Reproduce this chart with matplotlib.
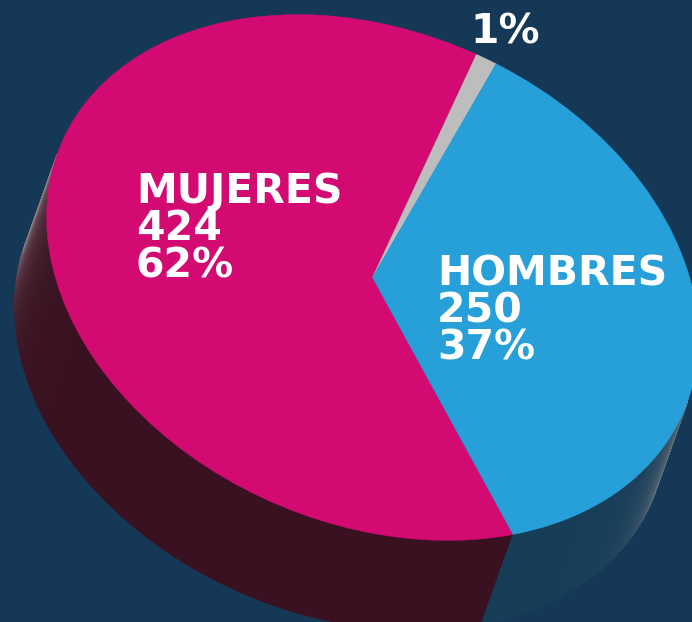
import numpy as np
import matplotlib
matplotlib.use("Agg")
import matplotlib.pyplot as plt
from matplotlib.patches import Wedge
from matplotlib.collections import PolyCollection
from matplotlib.transforms import Affine2D
import matplotlib.colors as mcolors

# ---- data ----
categories = ["MUJERES", "OTROS", "HOMBRES"]
counts = [424, 7, 250]
count_labels = ["424", "", "250"]
percent_labels = ["62%", "1%", "37%"]

# ---- style ----
bg = "#143856"
top_colors = ["#d40a73", "#bdbdbd", "#279fd8"]
side_dark = ["#3a1120", "#55585c", "#173d58"]
side_light = ["#8c7c84", "#9a9a9a", "#7c8288"]

W, H = 692, 622
fig = plt.figure(figsize=(6.92, 6.22), dpi=100)
fig.patch.set_facecolor(bg)
ax = fig.add_axes([0, 0, 1, 1])
ax.set_xlim(0, W)
ax.set_ylim(H, 0)
ax.set_facecolor(bg)
ax.axis("off")

# projected pie geometry (pixel/data space, y downward)
cx, cy = 372.5, 277.5
a_major, b_minor = 338.8, 246.1
rot = 23.4
ext = np.array([-32.0, 90.0])
start = 47.0

top_tr = Affine2D().scale(a_major, b_minor).rotate_deg(rot).translate(cx, cy)
M = top_tr.get_matrix()[:2, :2]
Minv_T = np.linalg.inv(M).T
e_hat = ext / np.linalg.norm(ext)

total = float(sum(counts))
angles = np.cumsum([0] + [c / total * 360 for c in counts]) + start

# ---- side walls ----
polys, cols = [], []
for i in range(len(counts)):
    t1, t2 = angles[i], angles[i + 1]
    n = max(int((t2 - t1) * 2), 4)
    ts = np.radians(np.linspace(t1, t2, n + 1))
    uv = np.vstack([np.cos(ts), np.sin(ts)])
    P = (M @ uv).T + np.array([cx, cy])
    N = (Minv_T @ uv).T
    N /= np.linalg.norm(N, axis=1)[:, None]
    f = N @ e_hat
    dk = np.array(mcolors.to_rgb(side_dark[i]))
    lt = np.array(mcolors.to_rgb(side_light[i]))
    for k in range(n):
        fm = 0.5 * (f[k] + f[k + 1])
        if fm <= 0:
            continue
        w = (1 - np.clip(fm, 0, 1)) ** 4
        c = dk * (1 - w) + lt * w
        polys.append([P[k], P[k + 1], P[k + 1] + ext, P[k] + ext])
        cols.append(c)
pc = PolyCollection(polys, facecolors=cols, edgecolors=cols, linewidths=0.6,
                    zorder=1)
ax.add_collection(pc)

# ---- top face ----
for i in range(len(counts)):
    w = Wedge((0, 0), 1.0, angles[i], angles[i + 1], facecolor=top_colors[i],
              edgecolor=top_colors[i], linewidth=0.3,
              transform=top_tr + ax.transData, zorder=2)
    ax.add_patch(w)

# ---- labels ----
font = dict(family="DejaVu Sans", fontweight="bold", color="white",
            fontsize=29.5, zorder=5, ha="left", va="baseline")
pitch = 37.5
ax.text(136, 203, categories[0], **font)
ax.text(136, 203 + pitch, count_labels[0], **font)
ax.text(136, 203 + 2 * pitch, percent_labels[0], **font)

ax.text(437, 285, categories[2], **font)
ax.text(437, 285 + pitch, count_labels[2], **font)
ax.text(437, 285 + 2 * pitch, percent_labels[2], **font)

ax.text(470, 43, percent_labels[1], **font)

fig.savefig("out.png", dpi=100, facecolor=bg)
